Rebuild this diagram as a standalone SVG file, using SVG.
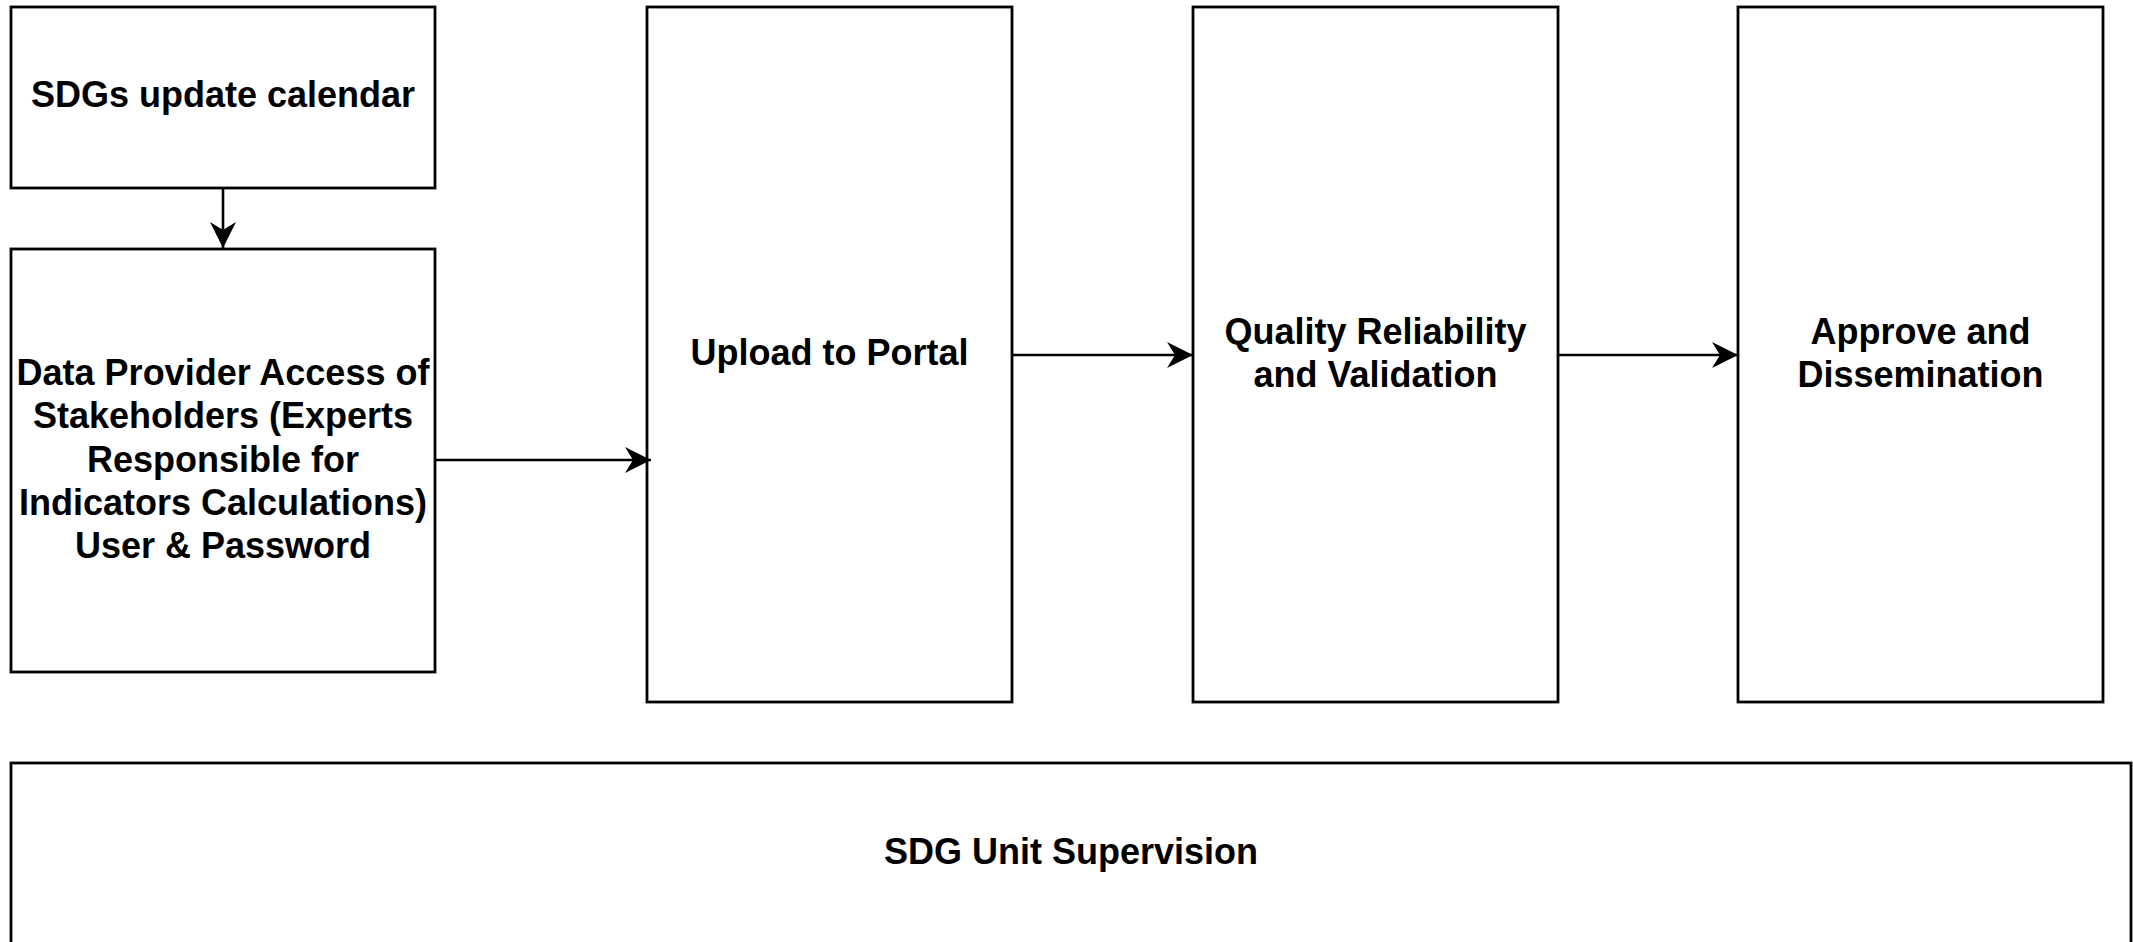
<svg xmlns="http://www.w3.org/2000/svg" width="2133" height="942" viewBox="0 0 2133 942">
<style>
.box{fill:#fff;stroke:#000;stroke-width:2.8}
.lbl{font-family:"Liberation Sans",Arial,sans-serif;font-weight:bold;font-size:36px;fill:#000;text-anchor:middle}
.edge{fill:none;stroke:#000;stroke-width:2.6}
</style>
<defs>
<marker id="arr" markerUnits="userSpaceOnUse" markerWidth="28" markerHeight="28" viewBox="0 0 28 28" refX="27" refY="14" orient="auto">
<path d="M1,1 L27,14 L1,27 L9,14 Z" fill="#000"/>
</marker>
</defs>
<rect width="2133" height="942" fill="#fff"/>
<g id="calendar">
<rect class="box" x="11" y="7" width="424" height="181"/>
<text class="lbl" x="223" y="107">SDGs update calendar</text>
</g>
<g id="provider">
<rect class="box" x="11" y="249" width="424" height="423"/>
<text class="lbl" x="223" y="385">Data Provider Access of</text>
<text class="lbl" x="223" y="428">Stakeholders (Experts</text>
<text class="lbl" x="223" y="472">Responsible for</text>
<text class="lbl" x="223" y="515">Indicators Calculations)</text>
<text class="lbl" x="223" y="558">User &amp; Password</text>
</g>
<g id="upload">
<rect class="box" x="647" y="7" width="365" height="695"/>
<text class="lbl" x="829.5" y="365">Upload to Portal</text>
</g>
<g id="quality">
<rect class="box" x="1193" y="7" width="365" height="695"/>
<text class="lbl" x="1375.5" y="344">Quality Reliability</text>
<text class="lbl" x="1375.5" y="387">and Validation</text>
</g>
<g id="approve">
<rect class="box" x="1738" y="7" width="365" height="695"/>
<text class="lbl" x="1920.5" y="344">Approve and</text>
<text class="lbl" x="1920.5" y="387">Dissemination</text>
</g>
<g id="supervision">
<rect class="box" x="11" y="763" width="2120" height="200"/>
<text class="lbl" x="1071" y="864">SDG Unit Supervision</text>
</g>
<g id="connectors">
<line class="edge" x1="223" y1="188" x2="223" y2="248" marker-end="url(#arr)"/>
<line class="edge" x1="435" y1="460" x2="651" y2="460" marker-end="url(#arr)"/>
<line class="edge" x1="1012" y1="355" x2="1193" y2="355" marker-end="url(#arr)"/>
<line class="edge" x1="1558" y1="355" x2="1738" y2="355" marker-end="url(#arr)"/>
</g>
</svg>
